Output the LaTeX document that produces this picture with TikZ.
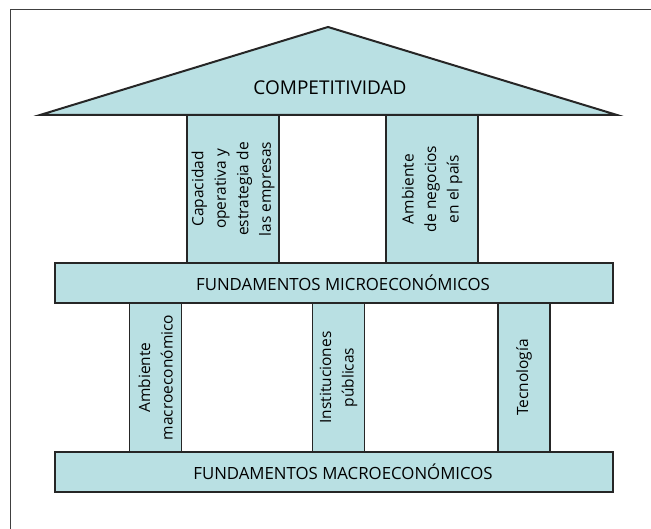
\documentclass[tikz,border=0pt]{standalone}
\usepackage{fontspec}
\setmainfont{Open Sans}
\usetikzlibrary{positioning}
\definecolor{pillarblue}{RGB}{185,224,227}

\begin{document}
\begin{tikzpicture}[x=1pt,y=1pt,
	bar node/.style={rectangle,draw=black!85,line width=2.2pt,fill=pillarblue,minimum width=558pt,minimum height=40pt,inner sep=0pt,outer sep=0pt,font=\fontsize{16.8}{19}\selectfont,execute at begin node=\hspace*{18pt}},
	pillar node/.style={rectangle,draw=black!85,line width=1.8pt,fill=pillarblue,rotate=90,anchor=west,inner sep=0pt,outer sep=0pt,align=center,font=\fontsize{15.5}{22.5}\selectfont},
	roof node/.style={inner sep=0pt,font=\fontsize{19}{22}\selectfont}
]
	\useasboundingbox (0,0) rectangle (651,529);
	\draw[black!75,line width=0.8pt] (10.5,0) -- (10.5,520) -- (651,520);

	% roof
	\coordinate (roof left) at (40,414);
	\coordinate (roof top) at (328,502);
	\coordinate (roof right) at (617,414);
	\draw[draw=black!85,line width=2pt,fill=pillarblue,line join=miter] (roof left) -- (roof top) -- (roof right) -- cycle;
	\node[roof node] (comp) at (330,441) {COMPETITIVIDAD};

	% bars
	\node[bar node] (macro) at (334,57) {FUNDAMENTOS MACROECONÓMICOS};
	\node[bar node, above=149pt of macro] (micro) {FUNDAMENTOS MICROECONÓMICOS};

	% lower pillars
	\node[pillar node, minimum width=149pt, minimum height=52pt] (env) at ([xshift=-178.5pt]macro.north) {Ambiente\\macroeconómico};
	\node[pillar node, minimum width=149pt, minimum height=52pt] (inst) at ([xshift=4.5pt]macro.north) {Instituciones\\públicas};
	\node[pillar node, minimum width=149pt, minimum height=52pt] (tech) at ([xshift=190pt]macro.north) {Tecnología};

	% upper pillars
	\node[pillar node, minimum width=148pt, minimum height=92pt] (firms) at ([xshift=-101pt]micro.north) {Capacidad\\operativa y\\estrategia de\\las empresas};
	\node[pillar node, minimum width=148pt, minimum height=92pt] (biz) at ([xshift=98pt]micro.north) {Ambiente\\de negocios\\en el país};

\end{tikzpicture}
\end{document}
